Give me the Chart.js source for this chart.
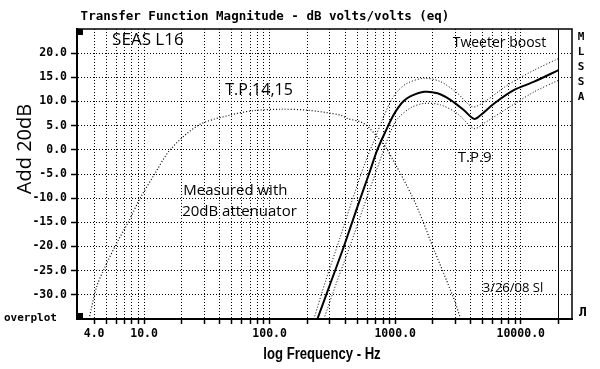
<html>
<head>
<script src="https://cdn.jsdelivr.net/npm/chart.js@4.4.0/dist/chart.umd.min.js"></script>
<style>
html,body{margin:0;padding:0;background:#fff;}
</style>
</head>
<body>
<canvas id="chart" width="600" height="369"></canvas>
<script>
// tick values / labels
var xTickValues = [4,5,6,7,8,9,10,20,30,40,50,60,70,80,90,100,200,300,400,500,600,700,800,900,
                   1000,2000,3000,4000,5000,6000,7000,8000,9000,10000,20000];
var xLabelValues = [4,10,100,1000,10000];
var yTickValues = [-30,-25,-20,-15,-10,-5,0,5,10,15,20];

// T.P.9 (solid) and its two dotted envelopes
var tp9Freq = [240,305,390,500,620,720,865,960,1060,1180,1330,1700,2170,2770,3530,4250,4800,6140,8870,12800,20000];
var tp9Db   = [-35,-27.6,-20,-11.8,-4.9,0,4.6,7.0,8.8,10.2,11.1,12.0,11.7,10.3,8.2,6.4,7.2,9.6,12.4,14.1,16.5];

var upperFreq = [225,280,360,460,570,680,800,918,1060,1250,1695,2300,3130,4120,5100,7850,12800,20000];
var upperDb   = [-35,-27,-18.5,-10,-3,2,6.5,10.0,12.3,13.8,14.8,14.1,11.7,8.9,9.9,13.4,16.5,18.9];

var lowerFreq = [270,340,435,560,695,810,920,1040,1330,1695,2300,3130,4250,5100,7850,12800,20000];
var lowerDb   = [-35,-27.6,-20,-11.8,-4.9,0,3.8,6.4,8.7,9.6,9.3,7.5,4.4,5.5,8.6,12.0,14.4];

// T.P.14,15 (dotted)
var tp14Freq = [3.64,4.19,4.89,6.05,7.5,9.3,12.2,16.1,27.1,48.5,74,122,200,367,415,560,720,865,1410,2040,2950,3320];
var tp14Db   = [-35,-28.3,-24.2,-19.3,-14.9,-10,-4.9,0,5.1,7.2,8.1,8.4,8.2,7.2,6.5,5.5,2.7,0,-10.4,-20.7,-31,-35];

function pts(f, d) { return f.map(function (v, i) { return {x: v, y: d[i]}; }); }

var pen = '"Open Sans"';
var notes = [
  {t: 'SEAS L16',        f: 5.56,  db: 22.6,  size: 17},
  {t: 'Tweeter boost',   f: 2870,  db: 22.2,  size: 14},
  {t: 'T.P.14,15',       f: 44.3,  db: 12.35, size: 16},
  {t: 'T.P.9',           f: 3150,  db: -1.7,  size: 15},
  {t: 'Measured with',   f: 20.5,  db: -8.5,  size: 15},
  {t: '20dB attenuator', f: 20.1,  db: -12.85,size: 15},
  {t: '3/26/08 Sl',      f: 4980,  db: -28.6, size: 13}
];

var decor = {
  id: 'decor',
  afterDraw: function (chart) {
    var c = chart.ctx, a = chart.chartArea;
    var xs = chart.scales.x, ys = chart.scales.y;
    c.save();
    // frame top / right
    c.strokeStyle = '#000';
    c.lineWidth = 1.5;
    c.beginPath();
    c.moveTo(a.left, a.top); c.lineTo(a.right, a.top); c.lineTo(a.right, a.bottom);
    c.stroke();
    // corner marks
    c.fillStyle = '#000';
    c.fillRect(a.left, a.top, 6, 6);
    c.fillRect(a.left, a.bottom - 6, 6, 6);

    c.textBaseline = 'middle';
    c.font = 'bold 12.5px "DejaVu Sans Mono"';
    c.textAlign = 'center';
    c.fillText('Transfer Function Magnitude - dB volts/volts (eq)', 265, 17);

    c.save();
    c.translate(322, 355);
    c.scale(0.82, 1);
    c.font = 'bold 16px "Liberation Sans"';
    c.fillText('log Frequency - Hz', 0, 0);
    c.restore();

    c.font = 'bold 11px "DejaVu Sans Mono"';
    c.textAlign = 'left';
    c.fillText('overplot', 4, 318);
    var letters = ['M','L','S','S','A'];
    c.textAlign = 'center';
    for (var i = 0; i < letters.length; i++) c.fillText(letters[i], 581, 37 + i * 15);
    c.font = 'bold 13px "DejaVu Sans Mono"';
    c.fillText('\u041b', 583, 313);

    // handwriting
    c.textAlign = 'left';
    notes.forEach(function (n) {
      c.font = n.size + 'px ' + pen;
      c.fillText(n.t, xs.getPixelForValue(n.f), ys.getPixelForValue(n.db));
    });
    c.translate(25, 149);
    c.rotate(-Math.PI / 2);
    c.textAlign = 'center';
    c.font = '20px ' + pen;
    c.fillText('Add 20dB', 0, 0);
    c.restore();
  }
};

var dotted = [1, 2];

new Chart(document.getElementById('chart'), {
  type: 'line',
  data: {
    datasets: [
      {label: 'T.P.9', data: pts(tp9Freq, tp9Db), borderColor: '#000', borderWidth: 2},
      {label: 'T.P.9 upper', data: pts(upperFreq, upperDb), borderColor: '#000', borderWidth: 1, borderDash: dotted},
      {label: 'T.P.9 lower', data: pts(lowerFreq, lowerDb), borderColor: '#000', borderWidth: 1, borderDash: dotted},
      {label: 'T.P.14,15', data: pts(tp14Freq, tp14Db), borderColor: '#000', borderWidth: 1.2, borderDash: dotted}
    ]
  },
  options: {
    responsive: false,
    animation: false,
    events: [],
    layout: {padding: {left: 0, right: 28, top: 29, bottom: 0}},
    elements: {
      point: {radius: 0},
      line: {tension: 0.3, fill: false}
    },
    plugins: {legend: {display: false}, title: {display: false}, tooltip: {enabled: false}},
    scales: {
      x: {
        type: 'logarithmic',
        min: 2.92,
        max: 25600,
        afterBuildTicks: function (s) { s.ticks = xTickValues.map(function (v) { return {value: v}; }); },
        afterFit: function (s) { s.height = 50; },
        ticks: {
          autoSkip: false, maxRotation: 0, padding: 3, color: '#000',
          font: {family: 'DejaVu Sans Mono', size: 11.5, weight: 'bold'},
          callback: function (v) { return xLabelValues.indexOf(v) >= 0 ? v.toFixed(1) : ''; }
        },
        grid: {
          color: '#000', lineWidth: 1, tickLength: 5, tickColor: '#000', tickWidth: 1.5
        },
        border: {
          display: true, color: '#000', width: 2,
          dash: function (ctx) { return ctx.tick && ctx.tick.value === 20000 ? [] : dotted; }
        }
      },
      y: {
        min: -35,
        max: 25,
        afterBuildTicks: function (s) { s.ticks = yTickValues.map(function (v) { return {value: v}; }); },
        afterFit: function (s) { s.width = 77; },
        ticks: {
          padding: 4, color: '#000',
          font: {family: 'DejaVu Sans Mono', size: 11.5, weight: 'bold'},
          callback: function (v) { return v.toFixed(1); }
        },
        grid: {color: '#000', lineWidth: 1, tickLength: 6, tickColor: '#000', tickWidth: 1.5},
        border: {display: true, color: '#000', width: 2, dash: dotted}
      }
    }
  },
  plugins: [decor]
});
</script>
</body>
</html>
